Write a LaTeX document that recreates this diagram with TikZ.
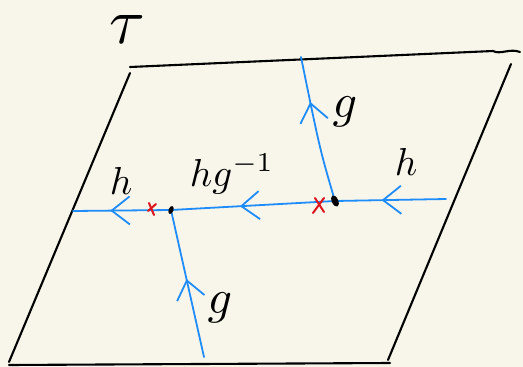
\documentclass[tikz,border=0pt]{standalone}
\usepackage{graphicx}
\usetikzlibrary{arrows.meta,decorations.markings,calc}
\definecolor{paper}{RGB}{248,246,234}
\definecolor{lineblue}{RGB}{30,140,250}
\definecolor{xred}{RGB}{220,20,30}
\newcommand{\hlbl}[1]{\scalebox{3.9}{$#1$}}
\newcommand{\glbl}[1]{\scalebox{4.8}{$#1$}}
\newcommand{\tlbl}[1]{\scalebox{6.5}{$#1$}}
\tikzset{
  edge/.style={black,line width=2.1pt,line cap=round,line join=round},
  wire/.style={lineblue,line width=1.8pt,line cap=round},
  midarrow/.style={wire,postaction={decorate},decoration={markings,
    mark=at position #1 with {\arrow{Straight Barb[length=18pt,width=28pt,line width=1.8pt,color=lineblue]}}}},
  cross/.style={xred,line width=2pt,line cap=round},
  lbl/.style={inner sep=0pt}
}
\begin{document}
\begin{tikzpicture}[x=1pt,y=1pt]
\useasboundingbox[fill=paper] (0,0) rectangle (523,-367);
% parallelogram corners
\coordinate (TL1) at (130,-67);
\coordinate (TR1) at (493,-51);
\coordinate (TR2) at (520,-52);
\coordinate (TL2) at (130,-73);
\coordinate (BL1) at (9,-362);
\coordinate (BL2) at (9,-365);
\coordinate (BR1) at (390,-363);
\coordinate (RT) at (511,-64);
\coordinate (RB) at (388,-360);
\draw[edge] (TL1) -- (TR1) .. controls (500,-55) and (510,-48) .. (TR2);
\draw[edge] (TL2) -- (BL1);
\draw[edge] (BL2) -- (BR1);
\draw[edge] (RT) -- (RB);
% blue lines
\coordinate (L) at (73,-211);
\coordinate (D1) at (171,-210);
\coordinate (D2) at (335,-201);
\coordinate (R) at (446,-199);
\coordinate (T) at (301,-57);
\coordinate (B) at (204,-357);
\draw[midarrow=0.58] (R) -- (D2);
\draw[midarrow=0.58] (D2) -- (D1);
\draw[midarrow=0.62] (D1) -- (L);
\draw[midarrow=0.69] (D2) .. controls (320,-150) .. (T);
\draw[midarrow=0.53] (B) -- (D1);
% red crosses
\coordinate (X1) at (152,-209);
\coordinate (X2) at (319,-205);
\draw[cross] ($(X1)+(-3,6)$) -- ($(X1)+(2,-6)$);
\draw[cross] ($(X1)+(4,5)$) -- ($(X1)+(-4,-2)$);
\draw[cross] ($(X2)+(-4,7)$) -- ($(X2)+(5,-7)$);
\draw[cross] ($(X2)+(5,7)$) -- ($(X2)+(-6,-8)$);
% black dots
\fill[black,rotate around={-20:(D1)}] (D1) ellipse (2.4pt and 4.2pt);
\fill[black,rotate around={25:(D2)}] (D2) ellipse (3.2pt and 6pt);
% labels
\node[lbl] (tau) at (127,-30) {\tlbl{\tau}};
\node[lbl] (h1) at (121,-181) {\hlbl{h}};
\node[lbl] (hg) at (232,-174) {\hlbl{hg^{-1}}};
\node[lbl] (h2) at (406,-162) {\hlbl{h}};
\node[lbl] (g1) at (345,-112) {\glbl{g}};
\node[lbl] (g2) at (220,-308) {\glbl{g}};
\end{tikzpicture}
\end{document}
